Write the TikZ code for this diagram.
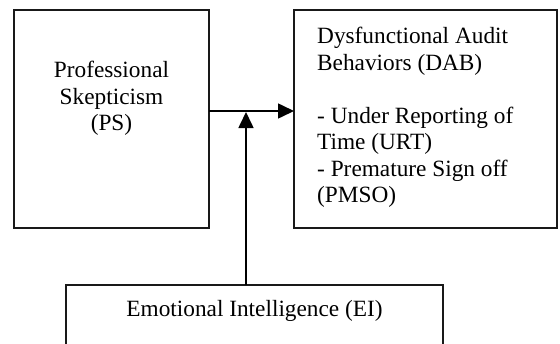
\documentclass[tikz,border=0pt]{standalone}
\usepackage{fontspec}
\setmainfont{Liberation Serif}
\usepackage{tikz}
\usetikzlibrary{arrows.meta,positioning}

\begin{document}
\begin{tikzpicture}[
    x=1pt, y=-1pt,
    node distance=5mm,
    block/.style={
        % The shape:
        rectangle,
        draw=black!90,
        line width=1.6pt,
        outer sep=0pt,
        inner sep=0pt},
    words/.style={
        % The fonts
        font=\fontsize{23.3}{26.5}\selectfont,
        inner sep=0pt},
    link/.style={
        line width=1.6pt,
        -{Triangle[length=16pt,width=15pt]}}
  ]
  \path[use as bounding box, clip] (0,0) rectangle (560,343);
  % the three boxes
  \node (ps) [block, minimum width=195pt, minimum height=218pt] at (111.5,119) {};
  \node (dab) [block, minimum width=263pt, minimum height=218pt] at (425.5,119) {};
  \node (ei) [block, minimum width=377pt, minimum height=100pt] at (254.5,335) {};
  % their texts
  \node (ps text) [words, align=center, below=51pt of ps.north] {Professional\\Skepticism\\(PS)};
  \node (dab text) [words, align=left, below right=17pt and 23pt of dab.north west]
    {Dysfunctional Audit\\Behaviors (DAB)\\[26.5pt]- Under Reporting of\\Time (URT)\\- Premature Sign off\\(PMSO)};
  \node (ei text) [words, anchor=base] at (254.5,316) {Emotional Intelligence (EI)};
  % the arrows
  \coordinate (join) at (246,112);
  \draw [link] ([yshift=8pt]ps.east) -- ([yshift=8pt]dab.west);
  \draw [link] (ei.north -| join) -- (join);
\end{tikzpicture}
\end{document}
